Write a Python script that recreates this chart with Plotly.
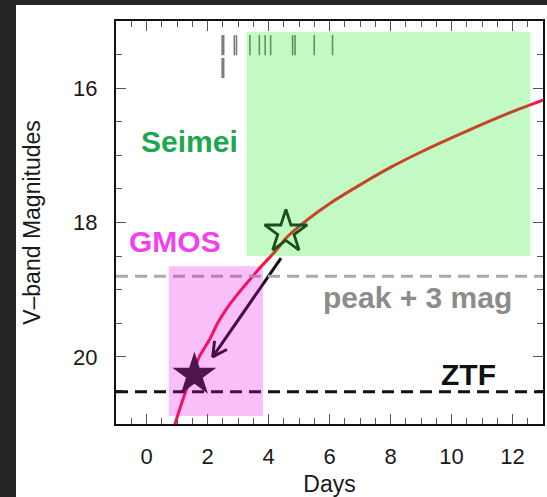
import numpy as np
import plotly.graph_objects as go

# Model V-band light curve (days since explosion vs. magnitude)
curve_days = [0.90, 1.19, 1.45, 1.73, 2.06, 2.33, 2.60, 2.93, 3.37, 3.81, 4.24, 4.60,
              5.27, 6.0, 7.0, 8.0, 9.0, 10.0, 11.0, 12.0, 13.0]
curve_mag = [21.05, 20.64, 20.32, 20.00, 19.75, 19.50, 19.30, 19.10, 18.86, 18.63, 18.42, 18.22,
             17.96, 17.72, 17.44, 17.18, 16.95, 16.74, 16.54, 16.35, 16.18]

# Seimei observation epochs (two rows of tick marks at the top)
obs_days_row1 = [2.48, 2.53, 2.88, 2.95, 3.39, 3.70, 3.89, 4.07, 4.79, 4.87, 5.50, 6.10]
obs_mag_row1 = [15.21, 15.51]
obs_days_row2 = [2.48, 2.53]
obs_mag_row2 = [15.55, 15.85]

# Detection limits
PEAK_PLUS3 = 18.80
ZTF_LIMIT = 20.52

# Observing windows (days, magnitudes)
seimei_days = [3.28, 12.58]
seimei_mag = [15.16, 18.50]
gmos_days = [0.73, 3.82]
gmos_mag = [18.65, 20.88]

# Markers and arrow
open_star = (4.57, 18.14)
filled_star = (1.57, 20.27)
arrow_start = (4.41, 18.53)
arrow_tip = (2.17, 20.00)

X_RANGE = [-1, 13]
Y_RANGE = [21, 15]

W, H = 547, 497
ML, MR, MT, MB = 116, 4, 21, 73
PW, PH = W - ML - MR, H - MT - MB
KX = PW / (X_RANGE[1] - X_RANGE[0])      # px per day
KY = PH / (Y_RANGE[0] - Y_RANGE[1])      # px per mag

fig = go.Figure()

# light curve
fig.add_trace(go.Scatter(x=curve_days, y=curve_mag, mode="lines",
                         line=dict(color="#ff1438", width=3, shape="spline", smoothing=0.7),
                         hoverinfo="skip", showlegend=False))

# Seimei epoch ticks
def tick_segments(days, mags):
    xs, ys = [], []
    for d in days:
        xs += [d, d, None]
        ys += [mags[0], mags[1], None]
    return xs, ys

for days, mags in ((obs_days_row1, obs_mag_row1), (obs_days_row2, obs_mag_row2)):
    xs, ys = tick_segments(days, mags)
    fig.add_trace(go.Scatter(x=xs, y=ys, mode="lines",
                             line=dict(color="#7a7a7a", width=1.6),
                             hoverinfo="skip", showlegend=False))

# arrow shaft
fig.add_trace(go.Scatter(x=[arrow_start[0], arrow_tip[0]], y=[arrow_start[1], arrow_tip[1]],
                         mode="lines", line=dict(color="#111111", width=3),
                         hoverinfo="skip", showlegend=False))

# open V arrowhead, built in pixel space
v = np.array([(arrow_start[0] - arrow_tip[0]) * KX, (arrow_start[1] - arrow_tip[1]) * KY])
v = v / np.linalg.norm(v) * 16
head_x, head_y = [], []
for ang in (np.radians(28), 0, np.radians(-28)):
    if ang == 0:
        head_x.append(arrow_tip[0]); head_y.append(arrow_tip[1]); continue
    c, s = np.cos(ang), np.sin(ang)
    r = np.array([c * v[0] - s * v[1], s * v[0] + c * v[1]])
    head_x.append(arrow_tip[0] + r[0] / KX)
    head_y.append(arrow_tip[1] + r[1] / KY)
fig.add_trace(go.Scatter(x=head_x, y=head_y, mode="lines",
                         line=dict(color="#111111", width=3),
                         hoverinfo="skip", showlegend=False))

# stars
fig.add_trace(go.Scatter(x=[open_star[0]], y=[open_star[1]], mode="markers",
                         marker=dict(symbol="star-open", size=32, color="#222222",
                                     line=dict(width=2.8, color="#222222")),
                         hoverinfo="skip", showlegend=False))
fig.add_trace(go.Scatter(x=[filled_star[0]], y=[filled_star[1]], mode="markers",
                         marker=dict(symbol="star", size=33, color="#1c1c1c",
                                     line=dict(width=0)),
                         hoverinfo="skip", showlegend=False))

shapes = []
# limit lines
shapes.append(dict(type="line", xref="paper", yref="y", x0=0, x1=1, y0=PEAK_PLUS3, y1=PEAK_PLUS3,
                   line=dict(color="#aaaaaa", width=3, dash="12px,7px"), layer="above"))
shapes.append(dict(type="line", xref="paper", yref="y", x0=0, x1=1, y0=ZTF_LIMIT, y1=ZTF_LIMIT,
                   line=dict(color="#111111", width=3, dash="12px,7px"), layer="above"))
# translucent observing windows on top of the data
shapes.append(dict(type="rect", xref="x", yref="y", x0=seimei_days[0], x1=seimei_days[1],
                   y0=seimei_mag[0], y1=seimei_mag[1], fillcolor="rgba(0,230,0,0.235)",
                   line=dict(width=0), layer="above"))
shapes.append(dict(type="rect", xref="x", yref="y", x0=gmos_days[0], x1=gmos_days[1],
                   y0=gmos_mag[0], y1=gmos_mag[1], fillcolor="rgba(231,0,231,0.25)",
                   line=dict(width=0), layer="above"))
# dark page edges
px2x = lambda px: (px - ML) / PW
py2y = lambda py: (H - MB - py) / PH
shapes.append(dict(type="rect", xref="paper", yref="paper", x0=px2x(0), x1=px2x(16),
                   y0=py2y(H), y1=py2y(0), fillcolor="#252525", line=dict(width=0), layer="above"))
shapes.append(dict(type="rect", xref="paper", yref="paper", x0=px2x(0), x1=px2x(W),
                   y0=py2y(5), y1=py2y(0), fillcolor="#252525", line=dict(width=0), layer="above"))

LABEL_FONT = "Liberation Sans, Arial, sans-serif"
annotations = [
    dict(x=1.42, y=16.80, text="<b>Seimei</b>", font=dict(color="#1ba84e", size=30, family=LABEL_FONT)),
    dict(x=0.92, y=18.29, text="<b>GMOS</b>", font=dict(color="#f23ff2", size=30, family=LABEL_FONT)),
    dict(x=8.90, y=19.11, text="<b>peak + 3 mag</b>", font=dict(color="#8c8c8c", size=30, family=LABEL_FONT)),
    dict(x=10.57, y=20.27, text="<b>ZTF</b>", font=dict(color="#111111", size=30, family=LABEL_FONT)),
]
for a in annotations:
    a.update(xref="x", yref="y", showarrow=False, xanchor="center", yanchor="middle")

AX_FONT = dict(family=LABEL_FONT, size=22, color="#1a1a1a")
common = dict(showline=True, linecolor="#111111", linewidth=2, mirror="allticks",
              ticks="inside", ticklen=10, tickwidth=1, tickcolor="#555555",
              showgrid=False, zeroline=False, tickfont=AX_FONT,
              minor=dict(ticks="inside", ticklen=6, tickwidth=1, tickcolor="#555555", dtick=0.5))

fig.update_xaxes(range=X_RANGE, tick0=0, dtick=2, ticklabelstandoff=12,
                 title=dict(text="Days", font=dict(family=LABEL_FONT, size=23, color="#1a1a1a"), standoff=13),
                 **common)
fig.update_yaxes(range=Y_RANGE, tick0=16, dtick=2, ticklabelstandoff=12,
                 title=dict(text="V–band Magnitudes", font=dict(family=LABEL_FONT, size=23, color="#1a1a1a"),
                            standoff=26),
                 **common)

fig.update_layout(width=W, height=H, margin=dict(l=ML, r=MR, t=MT, b=MB, autoexpand=False),
                  paper_bgcolor="white", plot_bgcolor="white",
                  shapes=shapes, annotations=annotations)

fig.write_html("out.html")
